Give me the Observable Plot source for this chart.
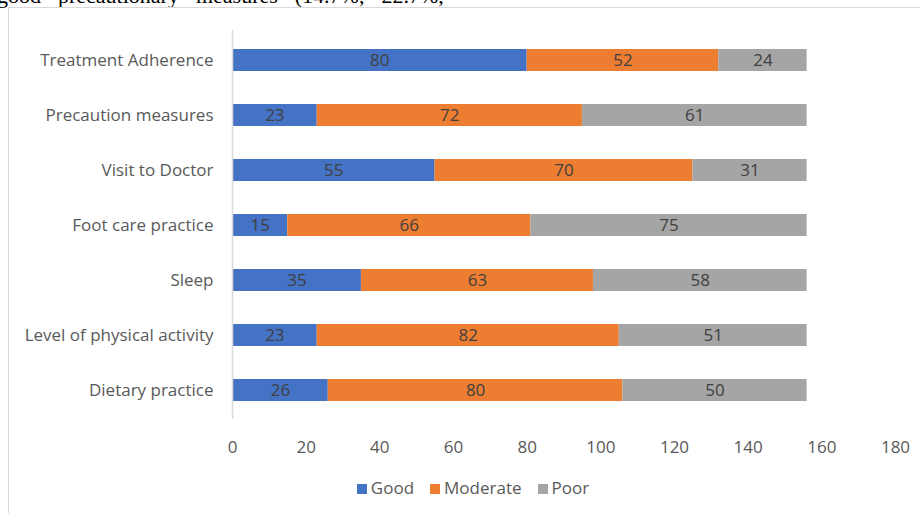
<!DOCTYPE html>
<html><head><meta charset="utf-8">
<script src="https://cdn.jsdelivr.net/npm/d3@7"></script>
<script src="https://cdn.jsdelivr.net/npm/@observablehq/plot@0.6"></script>
<style>
html,body{margin:0;padding:0;background:#fff;}
#wrap{position:relative;width:920px;height:513px;overflow:hidden;}
#top{position:absolute;left:-3px;top:-17px;font-family:"Liberation Serif",serif;font-size:22px;word-spacing:3px;color:#000;white-space:pre;}
#frame{position:absolute;left:8px;top:7px;width:930px;height:520px;border-left:1px solid #d9d9d9;border-top:1px solid #d9d9d9;}
#chart{position:absolute;left:0;top:0;}
#legend{position:absolute;left:0;width:920px;top:476px;text-align:center;font-family:"Open Sans",sans-serif;font-size:17px;color:#595959;padding-left:26px;box-sizing:border-box;}
#legend span.item{margin:0 8px;}
#legend span.sw{display:inline-block;width:10px;height:10px;margin-right:4px;vertical-align:0px;}
</style></head>
<body><div id="wrap">
<div id="top">good  precautionary  measures  (14.7%,  22.7%,</div>
<div id="frame"></div>
<div id="chart"></div>
<div id="legend"></div>
</div>
<script>
const categories = ["Treatment Adherence","Precaution measures","Visit to Doctor","Foot care practice","Sleep","Level of physical activity","Dietary practice"];
const statuses = ["Good","Moderate","Poor"];
const good = [80,23,55,15,35,23,26];
const moderate = [52,72,70,66,63,82,80];
const poor = [24,61,31,75,58,51,50];
const xTicks = [0,20,40,60,80,100,120,140,160,180];
const colors = ["#4472C4","#ED7D31","#A5A5A5"];

const series = [good, moderate, poor];
const data = [];
statuses.forEach((s, si) => categories.forEach((c, ci) => data.push({category: c, status: s, value: series[si][ci]})));

const chart = Plot.plot({
  width: 920,
  height: 470,
  marginTop: 30,
  marginBottom: 51,
  marginLeft: 232,
  marginRight: 25,
  style: {fontFamily: "'Open Sans', sans-serif", fontSize: "17px", color: "#595959", background: "transparent"},
  x: {domain: [0, 180], ticks: xTicks, label: null},
  y: {domain: categories, paddingInner: 0.6, paddingOuter: 0.3, label: null},
  color: {domain: statuses, range: colors},
  marks: [
    Plot.barX(data, Plot.stackX({x: "value", y: "category", fill: "status", order: statuses})),
    Plot.text(data, Plot.stackX({x: "value", y: "category", z: "status", text: "value", order: statuses, fill: "#404040", fontSize: 17})),
    Plot.axisX({ticks: xTicks, tickSize: 0, tickPadding: 21, fontSize: 17, fill: "#595959", label: null}),
    Plot.axisY({tickSize: 0, tickPadding: 19, fontSize: 17, fill: "#595959", label: null}),
    Plot.ruleX([0], {stroke: "#d9d9d9", strokeWidth: 1.5})
  ]
});
document.getElementById("chart").appendChild(chart);

const legend = document.getElementById("legend");
statuses.forEach((s, i) => {
  const it = document.createElement("span");
  it.className = "item";
  it.innerHTML = `<span class="sw" style="background:${colors[i]}"></span>${s}`;
  legend.appendChild(it);
});
</script>
</body></html>
